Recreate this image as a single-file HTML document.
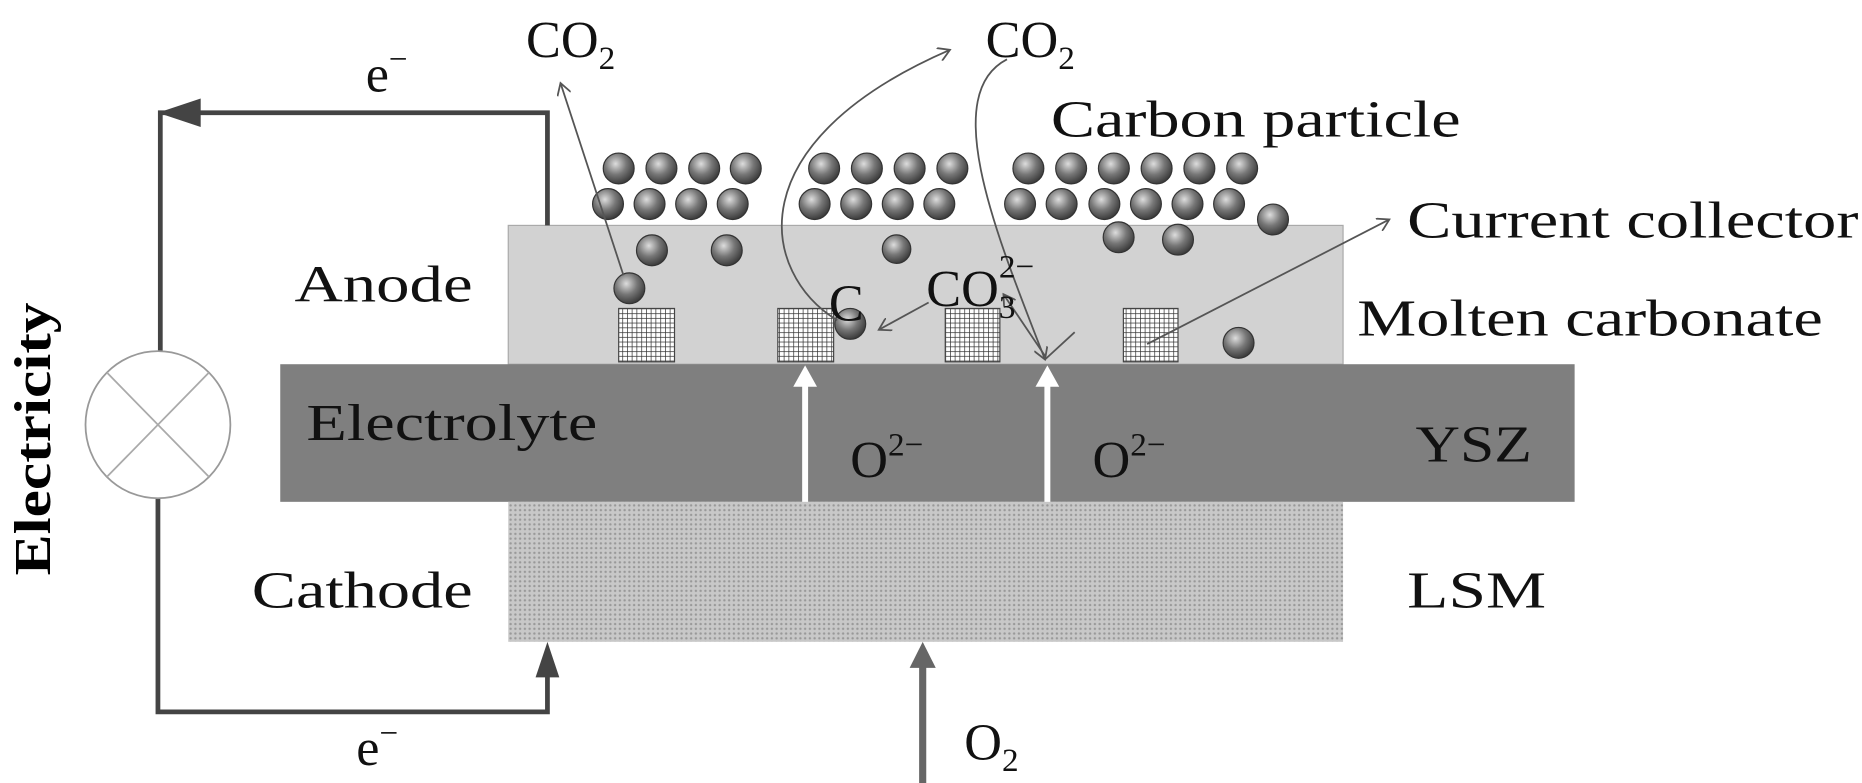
<!DOCTYPE html>
<html><head><style>html,body{margin:0;padding:0;background:#fff}svg{display:block}</style></head><body>
<svg width="1862" height="783" viewBox="0 0 1568 660" preserveAspectRatio="none" xmlns="http://www.w3.org/2000/svg" font-family="Liberation Serif, serif">
<defs>
<pattern id="dots" width="4" height="4" patternUnits="userSpaceOnUse"><rect width="4" height="4" fill="#c8c8c8"/><circle cx="2" cy="2" r="1" fill="#999"/></pattern>
<pattern id="hatch" width="4" height="4" patternUnits="userSpaceOnUse"><rect width="4" height="4" fill="#fff"/><path d="M0 0H4M0 0V4" stroke="#333" stroke-width="1.2"/></pattern>
<radialGradient id="ball" cx="0.4" cy="0.35" r="0.7"><stop offset="0" stop-color="#ddd"/><stop offset="0.5" stop-color="#777"/><stop offset="1" stop-color="#333"/></radialGradient>
<marker id="ah" markerWidth="12" markerHeight="12" refX="10" refY="6" orient="auto" markerUnits="userSpaceOnUse"><path d="M0 0L10 6L0 12" fill="none" stroke="#555" stroke-width="1.5"/></marker>
</defs>
<rect x="428" y="190" width="703" height="117" fill="#d2d2d2" stroke="#aaa"/>
<rect x="236" y="307" width="1090" height="116" fill="#7f7f7f"/>
<rect x="428" y="423" width="703" height="118" fill="url(#dots)"/>
<g stroke="#444" stroke-width="4" fill="none">
<path d="M461 190V95H135V297M133 420V600H461V560"/>
</g>
<path d="M133 95l36-12v24z" fill="#444"/>
<path d="M461 541l-10 30h20z" fill="#444"/>
<ellipse cx="133" cy="358" rx="61" ry="62" fill="#fff" stroke="#999" stroke-width="1.5"/>
<path d="M90 314L176 402M176 314L90 402" stroke="#aaa" stroke-width="1.5"/>
<text transform="translate(42,370) rotate(-90)" font-size="44" font-weight="bold" text-anchor="middle" textLength="230" lengthAdjust="spacingAndGlyphs">Electricity</text>
<g fill="url(#hatch)" stroke="#444" stroke-width="1">
<rect x="521" y="260" width="47" height="45"/><rect x="655" y="260" width="47" height="45"/><rect x="796" y="260" width="46" height="45"/><rect x="946" y="260" width="46" height="45"/>
</g>
<g fill="url(#ball)" stroke="#333" stroke-width="1">
<circle cx="521" cy="142" r="13"/><circle cx="557" cy="142" r="13"/><circle cx="593" cy="142" r="13"/><circle cx="628" cy="142" r="13"/>
<circle cx="694" cy="142" r="13"/><circle cx="730" cy="142" r="13"/><circle cx="766" cy="142" r="13"/><circle cx="802" cy="142" r="13"/>
<circle cx="866" cy="142" r="13"/><circle cx="902" cy="142" r="13"/><circle cx="938" cy="142" r="13"/><circle cx="974" cy="142" r="13"/><circle cx="1010" cy="142" r="13"/><circle cx="1046" cy="142" r="13"/>
<circle cx="512" cy="172" r="13"/><circle cx="547" cy="172" r="13"/><circle cx="582" cy="172" r="13"/><circle cx="617" cy="172" r="13"/>
<circle cx="686" cy="172" r="13"/><circle cx="721" cy="172" r="13"/><circle cx="756" cy="172" r="13"/><circle cx="791" cy="172" r="13"/>
<circle cx="859" cy="172" r="13"/><circle cx="894" cy="172" r="13"/><circle cx="930" cy="172" r="13"/><circle cx="965" cy="172" r="13"/><circle cx="1000" cy="172" r="13"/><circle cx="1035" cy="172" r="13"/>
<circle cx="1072" cy="185" r="13"/>
<circle cx="549" cy="211" r="13"/><circle cx="612" cy="211" r="13"/><circle cx="942" cy="200" r="13"/><circle cx="992" cy="202" r="13"/><circle cx="755" cy="210" r="12"/>
<circle cx="530" cy="243" r="13"/><circle cx="716" cy="273" r="13"/><circle cx="1043" cy="289" r="13"/>
</g>
<g stroke="#fff" stroke-width="5"><path d="M678 423V325M882 423V325"/></g>
<path d="M678 308l-10 18h20zM882 308l-10 18h20z" fill="#fff"/>
<path d="M777 660V560" stroke="#666" stroke-width="6"/><path d="M777 541l-11 22h22z" fill="#666"/>
<g stroke="#555" stroke-width="1.5" fill="none" marker-end="url(#ah)">
<path d="M525 232L472 70"/>
<path d="M705 270C640 230 620 120 800 42"/>
<path d="M848 50C790 80 840 200 880 303"/>
<path d="M966 290L1170 185"/>
<path d="M782 255L740 278"/>
<path d="M880 300L845 248"/>
</g>
<path d="M880 303L905 280" stroke="#555" stroke-width="1.5"/>
<g font-size="44" fill="#111" lengthAdjust="spacingAndGlyphs">
<text x="443" y="48">CO<tspan font-size="28" dy="10">2</tspan></text>
<text x="830" y="48">CO<tspan font-size="28" dy="10">2</tspan></text>
<text x="308" y="77">e<tspan font-size="28" dy="-18">−</tspan></text>
<text x="300" y="645">e<tspan font-size="28" dy="-18">−</tspan></text>
<text x="885" y="115" textLength="345" lengthAdjust="spacingAndGlyphs">Carbon particle</text>
<text x="1185" y="200" textLength="380" lengthAdjust="spacingAndGlyphs">Current collector</text>
<text x="1143" y="283" textLength="392" lengthAdjust="spacingAndGlyphs">Molten carbonate</text>
<text x="248" y="254" textLength="150" lengthAdjust="spacingAndGlyphs">Anode</text>
<text x="258" y="371" textLength="245" lengthAdjust="spacingAndGlyphs">Electrolyte</text>
<text x="716" y="402">O<tspan font-size="28" dy="-18">2−</tspan></text>
<text x="920" y="402">O<tspan font-size="28" dy="-18">2−</tspan></text>
<text x="1192" y="389" textLength="98" lengthAdjust="spacingAndGlyphs">YSZ</text>
<text x="212" y="512" textLength="186" lengthAdjust="spacingAndGlyphs">Cathode</text>
<text x="1185" y="512" textLength="117" lengthAdjust="spacingAndGlyphs">LSM</text>
<text x="812" y="640">O<tspan font-size="28" dy="10">2</tspan></text>
<text x="698" y="270">C</text>
<text x="780" y="258">CO<tspan font-size="28" dy="10">3</tspan><tspan font-size="28" dx="-14" dy="-34">2−</tspan></text>
</g>
</svg>
</body></html>
